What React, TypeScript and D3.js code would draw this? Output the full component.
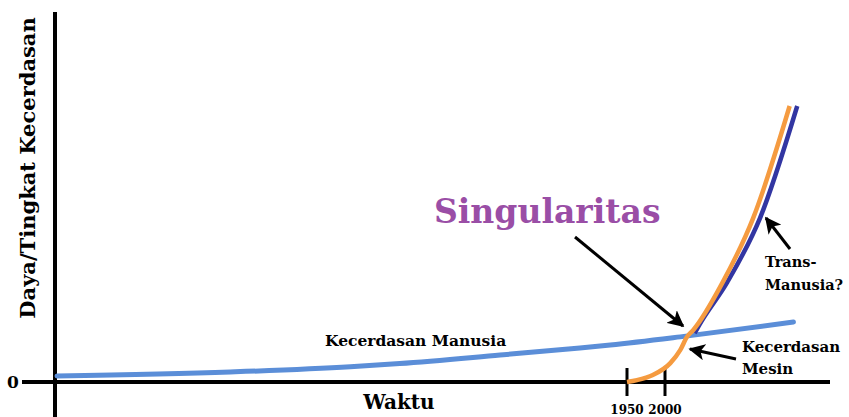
import React from "react";
import * as d3 from "d3";

// Time (years) vs intelligence level (arbitrary units, 0..100)
const humanYears = [1200, 1428, 1586, 1651, 1783, 1888, 1928, 2020, 2169];
const humanValues = [1.6, 2.7, 4.1, 5.0, 7.3, 9.2, 10.0, 12.2, 16.2];

const machineYears = [1950, 1963, 1984, 2007, 2020, 2029, 2037, 2076, 2116, 2164];
const machineValues = [0, 0.5, 1.9, 5.1, 8.6, 12.2, 14.0, 27.0, 44.3, 74.6];

const transYears = [2039, 2045, 2082, 2125, 2174];
const transValues = [13.2, 15.4, 27.0, 44.3, 74.6];

const tickYears = [1950, 2000];
const tickLabels = ["1950", "2000"];

const W = 849;
const H = 417;
const FONT = "'DejaVu Serif', 'Liberation Serif', serif";

export default function App() {
  const x = d3.scaleLinear().domain([1200, 2000]).range([57, 665]);
  const y = d3.scaleLinear().domain([0, 100]).range([382, 12]);

  const line = d3
    .line<[number, number]>()
    .x((d) => x(d[0]))
    .y((d) => y(d[1]))
    .curve(d3.curveMonotoneX);

  const human = humanYears.map((yr, i) => [yr, humanValues[i]] as [number, number]);
  const machine = machineYears.map((yr, i) => [yr, machineValues[i]] as [number, number]);
  const trans = transYears.map((yr, i) => [yr, transValues[i]] as [number, number]);

  const axisX = 55;
  const axisY = y(0);

  return (
    <svg
      width={W}
      height={H}
      style={{ position: "absolute", left: 0, top: 0, background: "#fff" }}
    >
      <defs>
        <marker
          id="ah"
          viewBox="0 0 10 10"
          refX="9"
          refY="5"
          markerWidth="5.5"
          markerHeight="5.5"
          orient="auto"
          markerUnits="strokeWidth"
        >
          <path d="M0,0 L10,5 L0,10 L2.5,5 Z" fill="#000" />
        </marker>
      </defs>

      {/* axes */}
      <line x1={axisX} x2={axisX} y1={12} y2={H} stroke="#000" strokeWidth={4} />
      <line x1={22} x2={830} y1={axisY} y2={axisY} stroke="#000" strokeWidth={4} />
      <text x={13} y={axisY + 6} fontFamily={FONT} fontWeight="bold" fontSize={17} textAnchor="middle">
        0
      </text>

      {tickYears.map((t, i) => (
        <g key={t}>
          <line x1={x(t)} x2={x(t)} y1={368} y2={396} stroke="#000" strokeWidth={3} />
          <text
            x={x(t)}
            y={414}
            fontFamily={FONT}
            fontWeight="bold"
            fontSize={12}
            textAnchor="middle"
          >
            {tickLabels[i]}
          </text>
        </g>
      ))}

      {/* axis titles */}
      <text x={399} y={409} fontFamily={FONT} fontWeight="bold" fontSize={20} textAnchor="middle">
        Waktu
      </text>
      <text
        transform={`translate(35,168) rotate(-90)`}
        fontFamily={FONT}
        fontWeight="bold"
        fontSize={21}
        textAnchor="middle"
      >
        Daya/Tingkat Kecerdasan
      </text>

      {/* curves */}
      <path d={line(human) || ""} fill="none" stroke="#5b8ed8" strokeWidth={5} strokeLinecap="round" />
      <path d={line(trans) || ""} fill="none" stroke="#3236a2" strokeWidth={4.5} />
      <path d={line(machine) || ""} fill="none" stroke="#f59b40" strokeWidth={4.5} />

      {/* labels */}
      <text x={325} y={346} fontFamily={FONT} fontWeight="bold" fontSize={15.5}>
        Kecerdasan Manusia
      </text>
      <text x={434} y={223} fontFamily={FONT} fontWeight="bold" fontSize={33} fill="#9a4ea6">
        Singularitas
      </text>
      <text x={742} y={352} fontFamily={FONT} fontWeight="bold" fontSize={15}>
        Kecerdasan
      </text>
      <text x={742} y={374} fontFamily={FONT} fontWeight="bold" fontSize={15}>
        Mesin
      </text>
      <text x={765} y={267} fontFamily={FONT} fontWeight="bold" fontSize={14.5}>
        Trans-
      </text>
      <text x={765} y={290} fontFamily={FONT} fontWeight="bold" fontSize={14.5}>
        Manusia?
      </text>

      {/* arrows */}
      <line x1={575} y1={237} x2={683} y2={326} stroke="#000" strokeWidth={3} markerEnd="url(#ah)" />
      <line x1={736} y1={359} x2={690} y2={349} stroke="#000" strokeWidth={3} markerEnd="url(#ah)" />
      <line x1={790} y1={249} x2={766} y2={218} stroke="#000" strokeWidth={3} markerEnd="url(#ah)" />
    </svg>
  );
}
